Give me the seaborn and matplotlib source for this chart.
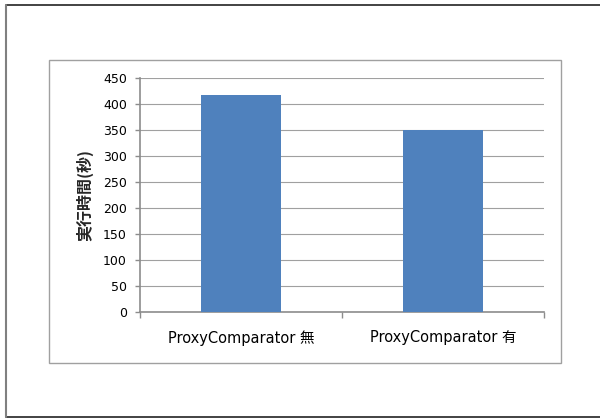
import matplotlib
matplotlib.use("Agg")
import matplotlib.pyplot as plt
from matplotlib.patches import Rectangle
from matplotlib.lines import Line2D
import seaborn as sns
import pandas as pd

categories = ["ProxyComparator 無", "ProxyComparator 有"]
exec_seconds = [416, 350]
y_ticks = [0, 50, 100, 150, 200, 250, 300, 350, 400, 450]

sns.set_style("white")
plt.rcParams["font.family"] = ["DejaVu Sans", "Noto Sans CJK JP"]

df = pd.DataFrame({"category": categories, "seconds": exec_seconds})

fig = plt.figure(figsize=(6.0, 4.19), dpi=100)
ax = fig.add_axes([140 / 600, 1 - 311.7 / 419, 404 / 600, 234 / 419])

sns.barplot(data=df, x="category", y="seconds", color="#4F81BD",
            saturation=1, width=0.4, linewidth=0, ax=ax, zorder=3)

ax.set_ylim(0, 450)
ax.set_xlim(-0.5, 1.5)
ax.set_yticks(y_ticks)
ax.yaxis.grid(True, color="#A0A0A0", linewidth=0.8, zorder=0)
ax.set_axisbelow(True)

for side in ["top", "right"]:
    ax.spines[side].set_visible(False)
for side in ["left", "bottom"]:
    ax.spines[side].set_color("#8C8C8C")
    ax.spines[side].set_linewidth(1.2)

ax.tick_params(axis="y", which="major", left=True, length=3.5, width=1,
               color="#8C8C8C", labelsize=9, pad=6, labelcolor="black")
ax.set_xticks([0, 1])
ax.set_xticklabels(categories)
ax.set_xticks([-0.5, 0.5, 1.5], minor=True)
ax.tick_params(axis="x", which="major", bottom=False, labelsize=10.5,
               pad=10, labelcolor="black")
ax.tick_params(axis="x", which="minor", bottom=True, length=4, width=1,
               color="#8C8C8C")

ax.set_xlabel("")
ax.set_ylabel("実行時間(秒)", fontsize=11.5, fontweight="bold", labelpad=7,
              family=["Noto Sans CJK JP", "DejaVu Sans"])

# Chart area frame
fig.patches.append(Rectangle((49 / 600, 1 - 363 / 419), 512 / 600, 303 / 419,
                             transform=fig.transFigure, fill=False,
                             edgecolor="#A0A0A0", linewidth=1, zorder=0))
# Outer page border (top, left, bottom)
fig.lines.append(Line2D([5.5 / 600, 1], [1 - 5 / 419, 1 - 5 / 419],
                        transform=fig.transFigure, color="#222222", linewidth=1.2))
fig.lines.append(Line2D([5.5 / 600, 1], [1 - 417 / 419, 1 - 417 / 419],
                        transform=fig.transFigure, color="#222222", linewidth=1.2))
fig.lines.append(Line2D([5.5 / 600, 5.5 / 600], [1 - 5 / 419, 1 - 417 / 419],
                        transform=fig.transFigure, color="#808080", linewidth=1.5))

fig.savefig("out.png", dpi=100)
